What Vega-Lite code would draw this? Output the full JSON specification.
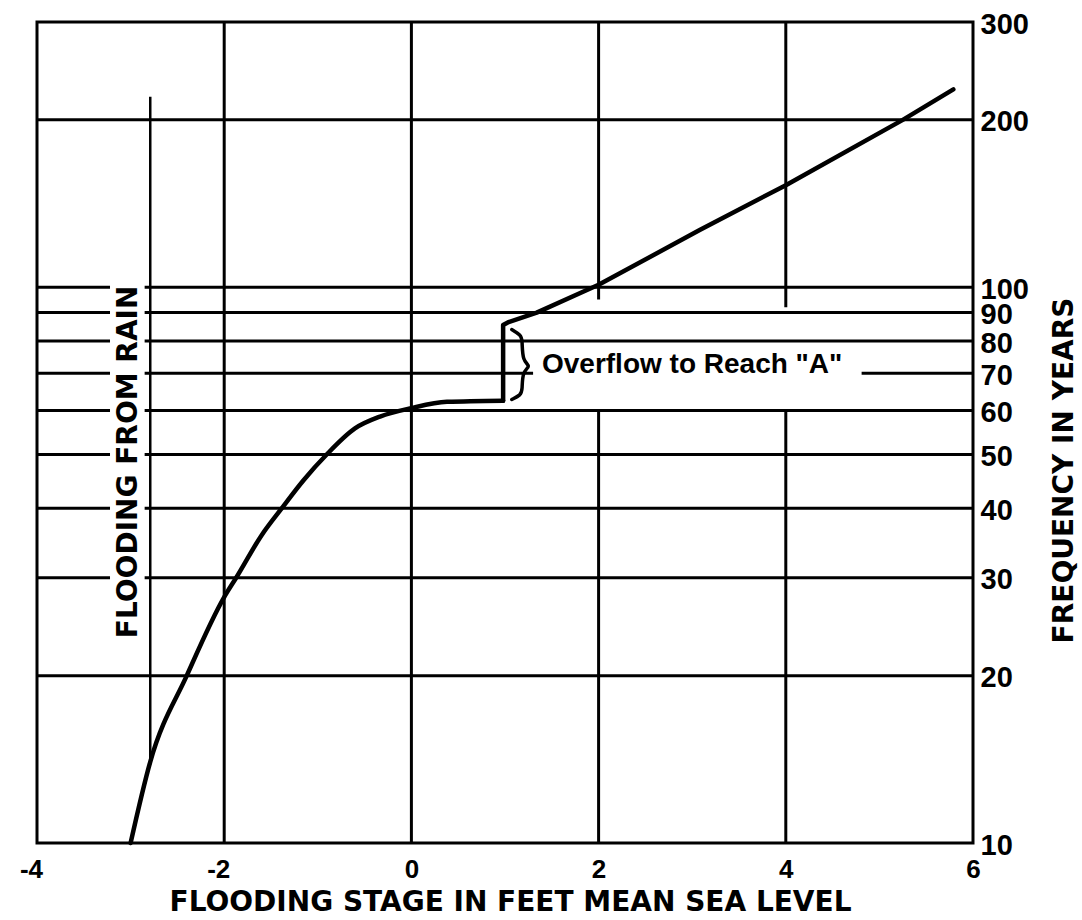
{
  "$schema": "https://vega.github.io/schema/vega-lite/v6.json",
  "width": 936,
  "height": 821,
  "autosize": "none",
  "padding": {"left": 37, "top": 22, "right": 109, "bottom": 77},
  "background": "white",
  "config": {
    "view": {"stroke": "black", "strokeWidth": 3},
    "font": "DejaVu Sans"
  },
  "datasets": {
    "hgrid": [
      {"freq": 200, "stage": -4, "stage2": 6},
      {"freq": 100, "stage": -4, "stage2": -3.22},
      {"freq": 100, "stage": -2.85, "stage2": 6},
      {"freq": 90, "stage": -4, "stage2": -3.22},
      {"freq": 90, "stage": -2.85, "stage2": 6},
      {"freq": 80, "stage": -4, "stage2": -3.22},
      {"freq": 80, "stage": -2.85, "stage2": 6},
      {"freq": 70, "stage": -4, "stage2": -3.22},
      {"freq": 70, "stage": -2.85, "stage2": 1.3},
      {"freq": 70, "stage": 4.81, "stage2": 6},
      {"freq": 60, "stage": -4, "stage2": -3.22},
      {"freq": 60, "stage": -2.85, "stage2": 6},
      {"freq": 50, "stage": -4, "stage2": -3.22},
      {"freq": 50, "stage": -2.85, "stage2": 6},
      {"freq": 40, "stage": -4, "stage2": -3.22},
      {"freq": 40, "stage": -2.85, "stage2": 6},
      {"freq": 30, "stage": -4, "stage2": -3.22},
      {"freq": 30, "stage": -2.85, "stage2": 6},
      {"freq": 20, "stage": -4, "stage2": 6}
    ],
    "vgrid": [
      {"stage": -2, "freq": 10, "freq2": 300},
      {"stage": 0, "freq": 10, "freq2": 300},
      {"stage": 2, "freq": 95, "freq2": 300},
      {"stage": 2, "freq": 10, "freq2": 60},
      {"stage": 4, "freq": 92, "freq2": 300},
      {"stage": 4, "freq": 10, "freq2": 60}
    ],
    "rain": [
      {"stage": -2.79, "freq": 14.0, "freq2": 220}
    ],
    "curve": [
      {"i": 0, "part": "low", "stage": -3.0, "freq": 10},
      {"i": 1, "part": "low", "stage": -2.79, "freq": 14.0},
      {"i": 2, "part": "low", "stage": -2.4, "freq": 20},
      {"i": 3, "part": "low", "stage": -2.0, "freq": 27.7},
      {"i": 4, "part": "low", "stage": -1.867, "freq": 30.1},
      {"i": 5, "part": "low", "stage": -1.6, "freq": 35.8},
      {"i": 6, "part": "low", "stage": -1.386, "freq": 40},
      {"i": 7, "part": "low", "stage": -1.15, "freq": 45},
      {"i": 8, "part": "low", "stage": -0.905, "freq": 50},
      {"i": 9, "part": "low", "stage": -0.603, "freq": 55.7},
      {"i": 10, "part": "low", "stage": -0.335, "freq": 58.5},
      {"i": 11, "part": "low", "stage": 0, "freq": 60.6},
      {"i": 12, "part": "low", "stage": 0.38, "freq": 62.2},
      {"i": 13, "part": "low", "stage": 0.98, "freq": 62.5},
      {"i": 13, "part": "high", "stage": 0.98, "freq": 62.5},
      {"i": 14, "part": "high", "stage": 0.98, "freq": 85.5},
      {"i": 15, "part": "high", "stage": 1.03, "freq": 86.4},
      {"i": 16, "part": "high", "stage": 1.339, "freq": 90},
      {"i": 17, "part": "high", "stage": 2, "freq": 101},
      {"i": 18, "part": "high", "stage": 3.08, "freq": 126.7},
      {"i": 19, "part": "high", "stage": 4, "freq": 152.6},
      {"i": 20, "part": "high", "stage": 5.25, "freq": 200},
      {"i": 21, "part": "high", "stage": 5.79, "freq": 227}
    ],
    "brace": [
      {"i": 0, "stage": 1.072, "freq": 83.9},
      {"i": 1, "stage": 1.17, "freq": 82.0},
      {"i": 2, "stage": 1.185, "freq": 80.4},
      {"i": 3, "stage": 1.185, "freq": 73.6},
      {"i": 4, "stage": 1.28, "freq": 72.1},
      {"i": 5, "stage": 1.185, "freq": 70.6},
      {"i": 6, "stage": 1.185, "freq": 65.3},
      {"i": 7, "stage": 1.17, "freq": 64.0},
      {"i": 8, "stage": 1.072, "freq": 62.8}
    ],
    "notes": [
      {"stage": -3.022, "freq": 48.5, "label": "FLOODING FROM RAIN", "kind": "rot"},
      {"stage": 1.395, "freq": 70.1, "label": "Overflow to Reach \"A\"", "kind": "flat"}
    ]
  },
  "layer": [
    {
      "data": {"name": "hgrid"},
      "mark": {"type": "rule", "color": "black", "strokeWidth": 3},
      "encoding": {
        "x": {
          "field": "stage", "type": "quantitative",
          "scale": {"domain": [-4, 6], "nice": false, "zero": false},
          "axis": {
            "values": [-4, -2, 0, 2, 4, 6],
            "ticks": false, "domain": false, "grid": false,
            "labelExpr": "'' + datum.value",
            "labelFont": "Liberation Sans", "labelFontWeight": "bold",
            "labelFontSize": 26, "labelColor": "black",
            "labelBaseline": "alphabetic", "labelPadding": 34,
            "labelFlush": false, "labelBound": false, "labelOverlap": false,
            "labelOffset": {"condition": {"test": "datum.value < 0", "value": -6}, "value": 0},
            "title": "FLOODING STAGE IN FEET MEAN SEA LEVEL",
            "titleFont": "DejaVu Sans",
            "titleFontSize": 28, "titleFontWeight": "bold", "titleColor": "black",
            "titleX": 473, "titleY": 67, "titleAlign": "center", "titleBaseline": "alphabetic"
          }
        },
        "x2": {"field": "stage2"},
        "y": {
          "field": "freq", "type": "quantitative",
          "scale": {"type": "log", "domain": [10, 300], "nice": false},
          "axis": {
            "orient": "right",
            "values": [10, 20, 30, 40, 50, 60, 70, 80, 90, 100, 200, 300],
            "ticks": false, "domain": false, "grid": false,
            "labelExpr": "'' + datum.value",
            "labelFont": "Liberation Sans", "labelFontWeight": "bold",
            "labelFontSize": 29, "labelColor": "black", "labelPadding": 7,
            "labelAlign": "left", "labelBaseline": "middle", "labelOffset": 2,
            "labelFlush": false, "labelBound": false, "labelOverlap": false,
            "title": "FREQUENCY IN YEARS",
            "titleFont": "DejaVu Sans",
            "titleFontSize": 28, "titleFontWeight": "bold", "titleColor": "black",
            "titleAngle": 270, "titleX": 91, "titleY": 448,
            "titleAlign": "center", "titleBaseline": "middle"
          }
        }
      }
    },
    {
      "data": {"name": "vgrid"},
      "mark": {"type": "rule", "color": "black", "strokeWidth": 3},
      "encoding": {
        "x": {"field": "stage", "type": "quantitative", "scale": {"domain": [-4, 6], "nice": false, "zero": false}},
        "y": {"field": "freq", "type": "quantitative", "scale": {"type": "log", "domain": [10, 300], "nice": false}},
        "y2": {"field": "freq2"}
      }
    },
    {
      "data": {"name": "rain"},
      "mark": {"type": "rule", "color": "black", "strokeWidth": 2.5},
      "encoding": {
        "x": {"field": "stage", "type": "quantitative", "scale": {"domain": [-4, 6], "nice": false, "zero": false}},
        "y": {"field": "freq", "type": "quantitative", "scale": {"type": "log", "domain": [10, 300], "nice": false}},
        "y2": {"field": "freq2"}
      }
    },
    {
      "data": {"name": "curve"},
      "transform": [{"filter": "datum.part == 'low'"}],
      "mark": {"type": "line", "color": "black", "strokeWidth": 4.5, "strokeCap": "round", "strokeJoin": "round", "interpolate": "monotone"},
      "encoding": {
        "x": {"field": "stage", "type": "quantitative", "scale": {"domain": [-4, 6], "nice": false, "zero": false}},
        "y": {"field": "freq", "type": "quantitative", "scale": {"type": "log", "domain": [10, 300], "nice": false}},
        "order": {"field": "i", "type": "quantitative"}
      }
    },
    {
      "data": {"name": "curve"},
      "transform": [{"filter": "datum.part == 'high'"}],
      "mark": {"type": "line", "color": "black", "strokeWidth": 4.5, "strokeCap": "round", "strokeJoin": "round"},
      "encoding": {
        "x": {"field": "stage", "type": "quantitative", "scale": {"domain": [-4, 6], "nice": false, "zero": false}},
        "y": {"field": "freq", "type": "quantitative", "scale": {"type": "log", "domain": [10, 300], "nice": false}},
        "order": {"field": "i", "type": "quantitative"}
      }
    },
    {
      "data": {"name": "brace"},
      "mark": {"type": "line", "color": "black", "strokeWidth": 3.5, "interpolate": "basis", "strokeCap": "round"},
      "encoding": {
        "x": {"field": "stage", "type": "quantitative", "scale": {"domain": [-4, 6], "nice": false, "zero": false}},
        "y": {"field": "freq", "type": "quantitative", "scale": {"type": "log", "domain": [10, 300], "nice": false}},
        "order": {"field": "i", "type": "quantitative"}
      }
    },
    {
      "data": {"name": "notes"},
      "transform": [{"filter": "datum.kind == 'rot'"}],
      "mark": {"type": "text", "color": "black", "font": "DejaVu Sans", "fontWeight": "bold", "angle": 270, "align": "center", "baseline": "middle", "fontSize": 28},
      "encoding": {
        "x": {"field": "stage", "type": "quantitative", "scale": {"domain": [-4, 6], "nice": false, "zero": false}},
        "y": {"field": "freq", "type": "quantitative", "scale": {"type": "log", "domain": [10, 300], "nice": false}},
        "text": {"field": "label"}
      }
    },
    {
      "data": {"name": "notes"},
      "transform": [{"filter": "datum.kind == 'flat'"}],
      "mark": {"type": "text", "color": "black", "font": "Liberation Sans", "fontWeight": "bold", "align": "left", "baseline": "alphabetic", "fontSize": 28},
      "encoding": {
        "x": {"field": "stage", "type": "quantitative", "scale": {"domain": [-4, 6], "nice": false, "zero": false}},
        "y": {"field": "freq", "type": "quantitative", "scale": {"type": "log", "domain": [10, 300], "nice": false}},
        "text": {"field": "label"}
      }
    }
  ]
}
